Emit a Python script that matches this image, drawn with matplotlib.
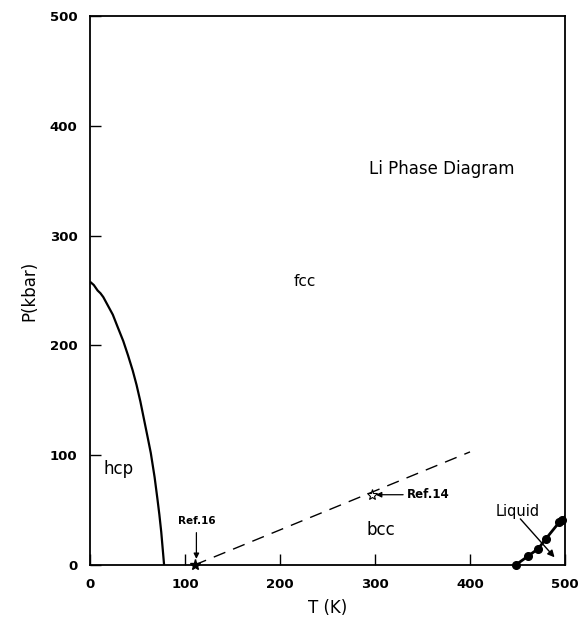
import matplotlib
matplotlib.use("Agg")
import matplotlib.pyplot as plt
import numpy as np

# hcp/fcc boundary
hcp_T = [0, 4, 8, 11, 14, 19, 24, 29, 35, 40, 45, 49, 53, 57, 61, 64, 68, 71, 73, 75, 77, 78]
hcp_P = [258, 255, 250, 247.5, 244, 236, 228, 217, 204, 191, 177, 164, 149, 132, 115, 102, 80, 60, 46, 30, 10, 0]

# bcc/fcc boundary (dashed)
bcc_T = [110, 400]
bcc_P = [0, 103]

# Ref.14 point
ref14_T = [297]
ref14_P = [64]
# Ref.16 point
ref16_T = [110]
ref16_P = [0]

# melting line
melt_T = [448, 461, 472, 480, 494, 497, 500]
melt_P = [0, 8, 15, 24, 39, 41, 44]
melt_dot_T = [448, 461, 472, 480, 494, 497]
melt_dot_P = [0, 8, 15, 24, 39, 41]

xticks = [0, 100, 200, 300, 400, 500]
yticks = [0, 100, 200, 300, 400, 500]

fig = plt.figure(figsize=(5.83, 6.18), dpi=100)
ax = fig.add_axes([90/583, 1-565/618, 475/583, 549/618])

ax.plot(hcp_T, hcp_P, color="black", lw=1.6, solid_capstyle="butt", solid_joinstyle="round")
ax.plot(bcc_T, bcc_P, color="black", lw=1.0, dashes=(9, 6))
ax.plot(melt_T, melt_P, color="black", lw=2.0)
ax.plot(melt_dot_T, melt_dot_P, "o", color="black", ms=5.5, clip_on=False)
ax.plot(ref14_T, ref14_P, marker="*", mfc="white", mec="black", ms=8, mew=0.8, ls="none")
ax.plot(ref16_T, ref16_P, marker="*", color="black", ms=8, ls="none", clip_on=False)

ax.text(370, 361, "Li Phase Diagram", ha="center", va="center", fontsize=12)
ax.text(226, 258, "fcc", ha="center", va="center", fontsize=11)
ax.text(30, 87, "hcp", ha="center", va="center", fontsize=12)
ax.text(306, 32, "bcc", ha="center", va="center", fontsize=12)
ax.text(112, 40, "Ref.16", ha="center", va="center", fontsize=7.5, fontweight="bold")
ax.annotate("", xy=(112, 3), xytext=(112, 32),
            arrowprops=dict(arrowstyle="-|>", color="black", lw=0.9, mutation_scale=8))
ax.annotate("Ref.14", xy=(301, 64), xytext=(334, 64), ha="left", va="center",
            fontsize=8.5, fontweight="bold",
            arrowprops=dict(arrowstyle="-|>", color="black", lw=0.9, mutation_scale=8,
                            shrinkA=1, shrinkB=0))
ax.text(450, 49, "Liquid", ha="center", va="center", fontsize=10.5)
ax.annotate("", xy=(489, 7), xytext=(453, 42),
            arrowprops=dict(arrowstyle="-|>", color="black", lw=1.0, mutation_scale=10,
                            shrinkA=0, shrinkB=0))

ax.set_xlim(0, 500)
ax.set_ylim(0, 500)
ax.set_xticks(xticks)
ax.set_yticks(yticks)
ax.set_xticklabels([str(t) for t in xticks], fontsize=9.5, fontweight="bold")
ax.set_yticklabels([str(t) for t in yticks], fontsize=9.5, fontweight="bold")
ax.tick_params(direction="in", length=8, width=1, pad=9)
for s in ax.spines.values():
    s.set_linewidth(1.3)
ax.set_xlabel("T (K)", fontsize=12, labelpad=6)
ax.set_ylabel("P(kbar)", fontsize=12, labelpad=8)

fig.savefig("out.png", dpi=100)
